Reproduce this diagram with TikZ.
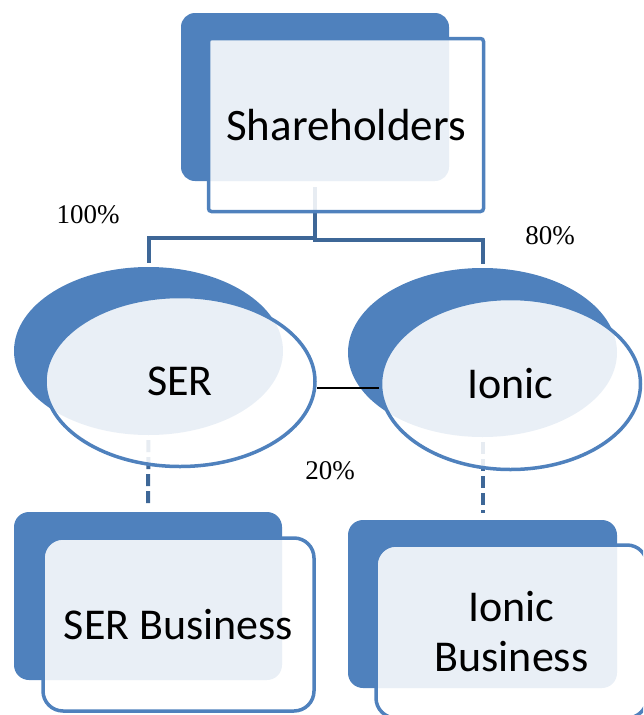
\documentclass[tikz,border=0pt]{standalone}
\usepackage{fontspec}
\setmainfont{Carlito}
\newfontfamily\pctfont{Liberation Serif}
\usetikzlibrary{shapes.geometric,calc}
\definecolor{darkblue}{HTML}{4F81BD}
\definecolor{linkblue}{HTML}{3E6797}
\tikzset{
 back/.style={fill=darkblue, draw=none, inner sep=0pt},
 backbox/.style={back, rectangle, rounded corners=14pt, minimum width=268pt, minimum height=168pt},
 backoval/.style={back, ellipse, minimum width=269pt, minimum height=168pt},
 front/.style={fill=white, fill opacity=0.88, text opacity=1, draw=darkblue, line width=3.5pt, inner sep=0pt, font=\fontsize{44}{50}\selectfont, align=center, text=black},
 frontbox/.style={front, rectangle, rounded corners=20pt, minimum width=271pt, minimum height=173pt},
 frontoval/.style={front, ellipse, minimum width=270pt, minimum height=170pt},
 link/.style={draw=linkblue, line width=4pt},
 pct/.style={font=\pctfont\fontsize{27}{30}\selectfont, anchor=base, inner sep=0pt, text=black},
}
\begin{document}
\begin{tikzpicture}[x=1pt, y=-1pt]
\useasboundingbox (0,0) rectangle (643,715);
\clip (0,0) rectangle (643,715);
% back shapes
\node[backbox] (shb) at (315,97) {};
\node[backoval] (serb) at (148.5,351) {};
\node[backoval, minimum height=169pt] (iob) at (482.5,352.5) {};
\node[backbox, rounded corners=15pt] (busb) at (148,596) {};
\node[backbox, rounded corners=15pt, minimum width=269pt] (ibusb) at (482.5,604) {};
% connectors
\coordinate (jl) at (0,238);
\coordinate (jr) at (0,240);
\draw[link, shorten <=6pt, shorten >=4pt] (shb.south) -- (shb.south |- jl) -| (serb.north);
\draw[link, shorten <=6pt, shorten >=4pt] (shb.south) -- (shb.south |- jr) -| (iob.north);
\draw[link, dash pattern=on 12pt off 5pt, shorten <=5pt, shorten >=7pt] (serb.south) -- (busb.north);
\draw[link, dash pattern=on 12pt off 5pt, shorten <=5pt, shorten >=7pt] (iob.south) -- (ibusb.north);
% front shapes
\node[frontbox, rounded corners=3pt, minimum width=275pt, font=\fontsize{45}{50}\selectfont] (sh) at (346,125) {Shareholders};
\node[frontoval] (ser) at (180,381.5) {SER};
\node[frontoval, minimum width=260pt, minimum height=171pt] (io) at (510.5,384) {Ionic};
\node[frontbox] (bus) at (178.5,624.5) {SER Business};
\node[frontbox] (ibus) at (511.5,631.5) {Ionic\\Business};
% cross holding line
\coordinate (mid) at (348,388);
\draw[black, line width=1.3pt] (mid -| ser.east) -- (mid -| io.west);
% percentages
\node[pct] (p100) at (88,223) {100\%};
\node[pct] (p80) at (550,244) {80\%};
\node[pct] (p20) at (330,479) {20\%};
\end{tikzpicture}
\end{document}
